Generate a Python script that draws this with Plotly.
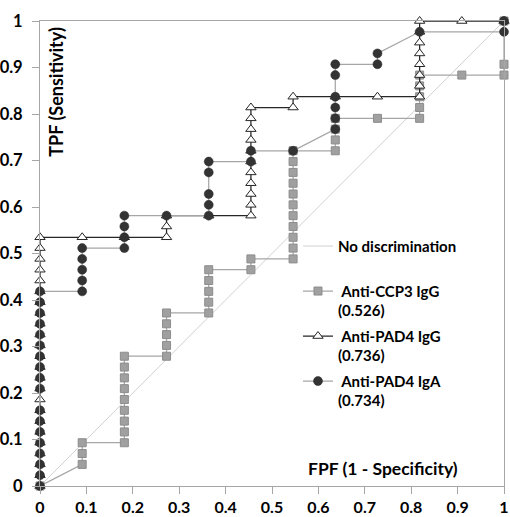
import plotly.graph_objects as go

# Counts: 11 negatives (FPF steps), 43 positives (TPF steps)
N_NEG = 11
N_POS = 43

diag_x = [0, 1]
diag_y = [0, 1]

ccp3_fp = [0, 1, 1, 1, 2, 2, 2, 2, 2, 2, 2, 2, 2, 3, 3, 3, 3, 3, 4, 4, 4, 4, 4, 5, 5,
           6, 6, 6, 6, 6, 6, 6, 6, 6, 6, 6, 7, 7, 7, 7, 8, 9, 9, 9, 9, 9, 10, 11, 11, 11]
ccp3_tp = [0, 2, 3, 4, 4, 5, 6, 7, 8, 9, 10, 11, 12, 12, 13, 14, 15, 16, 16, 17, 18, 19, 20, 20, 21,
           21, 22, 23, 24, 25, 26, 27, 28, 29, 30, 31, 31, 32, 33, 34, 34, 34, 35, 36, 37, 38, 38, 38, 39, 43]

pad4g_fp = [0] * 24 + [1, 2, 3, 3, 3, 4] + [5] * 11 + [6, 6, 7, 8] + [9] * 8 + [10, 11]
pad4g_tp = list(range(0, 24)) + [23, 23, 23, 24, 25, 25] + list(range(25, 36)) + [35, 36, 36, 36] + \
    list(range(36, 44)) + [43, 43]

pad4a_fp = [0] * 18 + [1] * 5 + [2] * 4 + [3] + [4] * 5 + [5, 5, 6] + [7] * 6 + [8, 8, 9, 11, 11]
pad4a_tp = [0, 1, 2, 3, 4, 5, 6, 7, 9, 10, 11, 12, 13, 14, 15, 16, 17, 18,
            18, 19, 20, 21, 22, 22, 23, 24, 25, 25, 25, 26, 27, 29, 30, 30, 31, 31,
            33, 34, 35, 36, 38, 39, 39, 40, 42, 42, 43]

names = ["No discrimination", "Anti-CCP3 IgG", "Anti-PAD4 IgG", "Anti-PAD4 IgA"]
aucs = ["", "0.526", "0.736", "0.734"]
tick_vals = [0, 0.1, 0.2, 0.3, 0.4, 0.5, 0.6, 0.7, 0.8, 0.9, 1]
tick_text = ["0", "0.1", "0.2", "0.3", "0.4", "0.5", "0.6", "0.7", "0.8", "0.9", "1"]

FONT = "Lato"

def fx(a):
    return [v / N_NEG for v in a]

def fy(a):
    return [v / N_POS for v in a]

fig = go.Figure()
fig.add_trace(go.Scatter(x=diag_x, y=diag_y, mode="lines", name=names[0] + "<br>\u00a0",
                         line=dict(color="#d0d0d0", width=1), legendgroup="a", cliponaxis=False))
fig.add_trace(go.Scatter(x=fx(ccp3_fp), y=fy(ccp3_tp), mode="lines+markers",
                         name="\u00a0" + names[1] + "<br>(" + aucs[1] + ")", legendgroup="b",
                         line=dict(color="#a6a6a6", width=1.25),
                         marker=dict(symbol="square", size=8, color="#a0a0a0",
                                     line=dict(color="#8c8c8c", width=1)), cliponaxis=False))
fig.add_trace(go.Scatter(x=fx(pad4g_fp), y=fy(pad4g_tp), mode="lines+markers",
                         name="\u00a0" + names[2] + "<br>(" + aucs[2] + ")", legendgroup="c",
                         line=dict(color="#262626", width=1.25),
                         marker=dict(symbol="triangle-up", size=9, color="white",
                                     line=dict(color="#262626", width=1)), cliponaxis=False))
fig.add_trace(go.Scatter(x=fx(pad4a_fp), y=fy(pad4a_tp), mode="lines+markers",
                         name="\u00a0" + names[3] + "<br>(" + aucs[3] + ")", legendgroup="d",
                         line=dict(color="#a6a6a6", width=1.25),
                         marker=dict(symbol="circle", size=9, color="#333333",
                                     line=dict(color="#262626", width=0.5)), cliponaxis=False))

axis_common = dict(range=[0, 1], tickvals=tick_vals, ticktext=tick_text, ticks="outside",
                   ticklen=7, tickcolor="#a6a6a6", showline=True, linecolor="#a6a6a6",
                   linewidth=1, mirror=True, showgrid=False, zeroline=False, automargin=False)

fig.update_layout(
    width=510, height=517,
    margin=dict(l=40, r=6, t=21, b=31),
    paper_bgcolor="white", plot_bgcolor="white",
    xaxis=dict(**axis_common, ticklabelstandoff=0,
               tickfont=dict(family=FONT, size=16, color="black", weight="bold")),
    yaxis=dict(**axis_common, ticklabelstandoff=6,
               tickfont=dict(family=FONT, size=16.5, color="black", weight="bold")),
    showlegend=True,
    legend=dict(x=0.556, y=0.551, xanchor="left", yanchor="top", bgcolor="rgba(0,0,0,0)",
                font=dict(family=FONT, size=15, color="black", weight="bold"),
                traceorder="grouped", tracegroupgap=3, valign="top"),
    annotations=[
        dict(text="TPF (Sensitivity)", x=0.0345, y=0.848, xref="paper", yref="paper",
             textangle=-90, showarrow=False, xanchor="center", yanchor="middle",
             font=dict(family=FONT, size=18, color="black", weight="bold")),
        dict(text="FPF (1 - Specificity)", x=0.740, y=0.037, xref="paper", yref="paper",
             showarrow=False, xanchor="center", yanchor="middle",
             font=dict(family=FONT, size=17.5, color="black", weight="bold")),
    ],
)

fig.write_html("out.html")
